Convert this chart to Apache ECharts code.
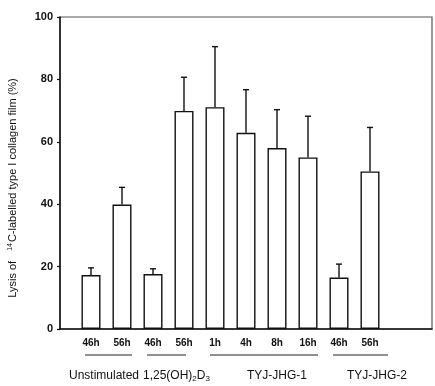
<!DOCTYPE html>
<html>
<head>
<meta charset="utf-8">
<script src="https://cdn.jsdelivr.net/npm/echarts@6/dist/echarts.min.js"></script>
<style>
  html, body { margin: 0; padding: 0; background: #fff; }
  #chart { width: 435px; height: 386px; }
</style>
</head>
<body>
<div id="chart"></div>
<script>
// Time points along the x axis (empty slots pad both ends of the axis)
const categories = ['', '46h', '56h', '46h', '56h', '1h', '4h', '8h', '16h', '46h', '56h', '', ''];
// Mean lysis (%) per time point
const lysisMean = [null, 17.3, 39.9, 17.6, 69.9, 71.1, 62.9, 58.0, 55.0, 16.5, 50.5, null, null];
// Upper error (SD, %) per time point
const lysisErr = [null, 2.3, 5.5, 1.7, 10.8, 19.4, 13.8, 12.3, 13.2, 4.3, 14.1, null, null];
// Y-axis ticks
const yTicks = [0, 20, 40, 60, 80, 100];

const FONT = 'Liberation Sans, Arial, sans-serif';

const chart = echarts.init(document.getElementById('chart'), null, { renderer: 'canvas' });

const errData = lysisMean.map((m, i) => m == null ? [i, null, null] : [i, m, m + lysisErr[i]]);

chart.setOption({
  animation: false,
  backgroundColor: '#fff',
  grid: {
    left: 60, right: 1, top: 17, bottom: 57,
    show: true, borderColor: '#555', borderWidth: 1.2, backgroundColor: 'transparent'
  },
  xAxis: {
    type: 'category',
    data: categories,
    boundaryGap: false,
    axisLine: { lineStyle: { color: '#111', width: 1.5 } },
    axisTick: { show: false },
    axisLabel: {
      interval: 0, margin: 9, color: '#111',
      fontFamily: FONT, fontSize: 10, fontWeight: 'bold'
    },
    splitLine: { show: false }
  },
  yAxis: {
    type: 'value',
    min: yTicks[0], max: yTicks[yTicks.length - 1], interval: 20,
    axisLine: { show: true, lineStyle: { color: '#111', width: 1.5 } },
    axisTick: { show: true, inside: false, length: 3, lineStyle: { color: '#111', width: 1.2 } },
    axisLabel: { margin: 7, color: '#111', fontFamily: FONT, fontSize: 11, fontWeight: 'bold' },
    splitLine: { show: false }
  },
  series: [
    {
      type: 'bar',
      data: lysisMean,
      barWidth: 19,
      itemStyle: { color: '#fff', borderColor: '#111', borderWidth: 1.4 },
      z: 2
    },
    {
      type: 'custom',
      data: errData,
      z: 3,
      renderItem: function (params, api) {
        const lo = api.value(1), hi = api.value(2);
        if (lo == null || isNaN(lo)) return null;
        const x = api.value(0);
        const p0 = api.coord([x, lo]);
        const p1 = api.coord([x, hi]);
        const cap = 3;
        const style = { stroke: '#111', lineWidth: 1.4 };
        return {
          type: 'group',
          children: [
            { type: 'line', shape: { x1: p0[0], y1: p0[1], x2: p1[0], y2: p1[1] }, style: style },
            { type: 'line', shape: { x1: p1[0] - cap, y1: p1[1], x2: p1[0] + cap, y2: p1[1] }, style: style }
          ]
        };
      }
    }
  ],
  graphic: [
    // Axis title, rotated
    {
      type: 'text', x: 13, y: 188, rotation: Math.PI / 2,
      style: {
        text: '{n|Lysis of}   {s|14}{n|C-labelled type I collagen film (%)}',
        align: 'center', verticalAlign: 'middle',
        rich: {
          n: { fontFamily: FONT, fontSize: 11, fill: '#111' },
          s: { fontFamily: FONT, fontSize: 7, fill: '#111', verticalAlign: 'top', padding: [0, 1, 6, 0] }
        }
      }
    },
    // Group underlines
    { type: 'line', shape: { x1: 85, y1: 355, x2: 132, y2: 355 }, style: { stroke: '#222', lineWidth: 1.2 } },
    { type: 'line', shape: { x1: 147, y1: 355, x2: 186, y2: 355 }, style: { stroke: '#222', lineWidth: 1.2 } },
    { type: 'line', shape: { x1: 210, y1: 355, x2: 318, y2: 355 }, style: { stroke: '#222', lineWidth: 1.2 } },
    { type: 'line', shape: { x1: 333, y1: 355, x2: 388, y2: 355 }, style: { stroke: '#222', lineWidth: 1.2 } },
    // Group labels
    { type: 'text', x: 69, y: 376, style: { text: 'Unstimulated', fontFamily: FONT, fontSize: 12, fill: '#111', verticalAlign: 'middle' } },
    {
      type: 'text', x: 143, y: 376,
      style: {
        text: '{n|1,25(OH)}{b|2}{n|D}{b|3}',
        verticalAlign: 'middle',
        rich: {
          n: { fontFamily: FONT, fontSize: 12, fill: '#111' },
          b: { fontFamily: FONT, fontSize: 8, fill: '#111', padding: [6, 0, 0, 0] }
        }
      }
    },
    { type: 'text', x: 247, y: 376, style: { text: 'TYJ-JHG-1', fontFamily: FONT, fontSize: 12, fill: '#111', verticalAlign: 'middle' } },
    { type: 'text', x: 347, y: 376, style: { text: 'TYJ-JHG-2', fontFamily: FONT, fontSize: 12, fill: '#111', verticalAlign: 'middle' } }
  ]
});
</script>
</body>
</html>
